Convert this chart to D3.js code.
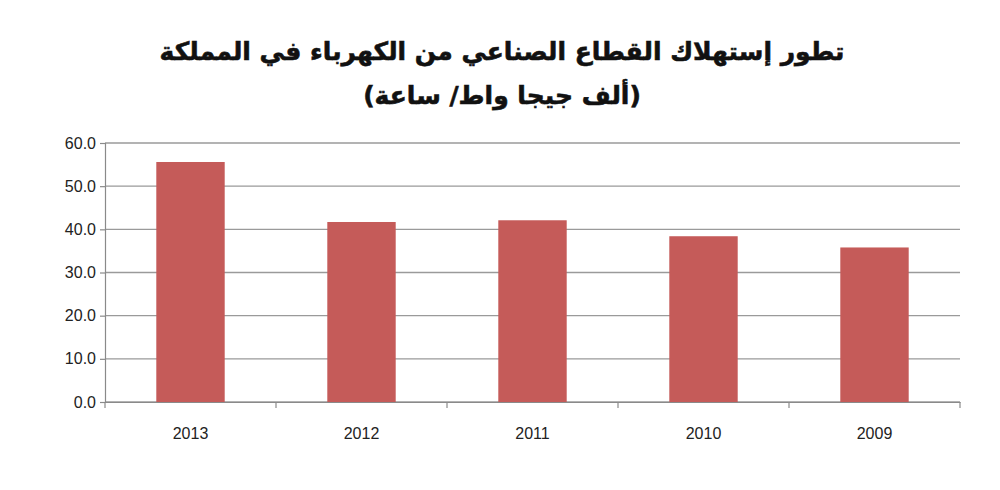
<!DOCTYPE html>
<html><head><meta charset="utf-8">
<script src="https://cdn.jsdelivr.net/npm/d3@7"></script>
<style>body{margin:0;background:#fff}</style></head>
<body><svg id="c" width="1000" height="490"></svg>
<script>
const categories = ["2013","2012","2011","2010","2009"];
const values = [55.6, 41.7, 42.1, 38.4, 35.8];
const yTicks = [0,10,20,30,40,50,60];
const titleLines = ["تطور إستهلاك القطاع الصناعي من الكهرباء في المملكة","(ألف جيجا واط/ ساعة)"];

const svg = d3.select("#c");
const m = {l:105, r:960, t:143, b:402};
const x = d3.scaleBand().domain(categories).range([m.l, m.r]).paddingInner(0.6).paddingOuter(0.3);
const y = d3.scaleLinear().domain([0,60]).range([m.b, m.t]);

svg.append("g").selectAll("line").data(yTicks).join("line")
  .attr("x1", m.l).attr("x2", m.r).attr("y1", d=>y(d)).attr("y2", d=>y(d))
  .attr("stroke", "#9a9a9a").attr("stroke-width", 1.3);

svg.append("g").selectAll("rect").data(values).join("rect")
  .attr("x", (d,i)=>x(categories[i])).attr("width", x.bandwidth())
  .attr("y", d=>y(d)).attr("height", d=>y(0)-y(d)).attr("fill", "#c55b59");

const yAxis = svg.append("g").attr("transform", `translate(${m.l},0)`)
  .call(d3.axisLeft(y).tickValues(yTicks).tickFormat(d3.format(".1f")).tickSize(5).tickPadding(4));
const xAxis = svg.append("g").attr("transform", `translate(0,${m.b})`)
  .call(d3.axisBottom(x).tickSize(0).tickPadding(26));
const bounds = d3.range(categories.length+1).map(i=>m.l + i*(m.r-m.l)/categories.length);
svg.append("g").selectAll("line").data(bounds).join("line")
  .attr("x1", d=>d).attr("x2", d=>d).attr("y1", m.b).attr("y2", m.b+6)
  .attr("stroke", "#8a8a8a").attr("stroke-width", 1.2);
[yAxis, xAxis].forEach(g=>{
  g.selectAll("path,line").attr("stroke","#8a8a8a").attr("stroke-width",1.2);
  g.selectAll("text").attr("font-family","Liberation Sans, Arial, sans-serif").attr("font-size",16).attr("fill","#222");
});

svg.append("g").selectAll("text").data(titleLines).join("text")
  .attr("x", 502).attr("y", (d,i)=>60 + i*44).attr("text-anchor","middle")
  .attr("direction","rtl")
  .attr("font-family","DejaVu Sans, Noto Sans, sans-serif").attr("font-weight","bold")
  .attr("font-size",25).attr("stroke","#111").attr("stroke-width",0.6)
  .attr("fill","#111").text(d=>d);
</script></body></html>
